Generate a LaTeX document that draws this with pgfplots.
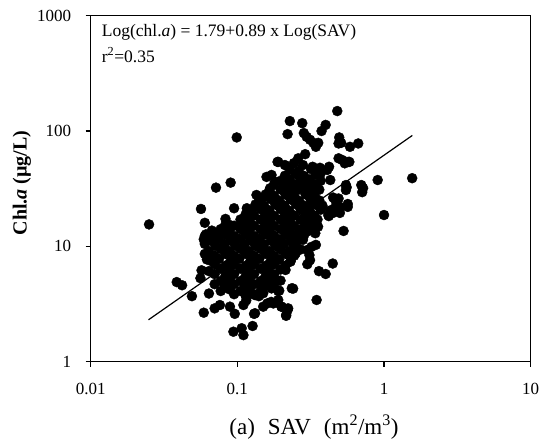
\documentclass[border=0pt]{standalone}
\usepackage{fontspec}
\setmainfont{Liberation Serif}
\usepackage{pgfplots}
\usepackage{pgfplotstable}
\pgfplotsset{compat=1.18}
\pgfplotstableread{
x y
0.025 15.5
0.0386 4.9
0.042 4.6
0.049 3.7
0.0565 21.1
0.060 16
0.083 17.3
0.095 21.4
0.0715 32.3
0.090 35.7
0.099 88
0.059 11.5
0.062 7.7
0.057 6.2
0.056 5.3
0.064 3.9
0.059 2.66
0.070 2.9
0.076 3.1
0.089 3.0
0.096 2.6
0.094 1.82
0.107 1.95
0.110 1.7
0.127 2.04
0.132 2.63
0.190 54
0.158 40
0.171 41.6
0.180 36.4
0.167 31.9
0.154 27
0.135 27.9
0.132 22.1
0.116 21.4
0.118 17.5
0.104 14.8
0.089 15.3
0.076 13.4
0.060 12.3
0.48 149
0.228 122
0.277 117
0.40 113
0.375 100
0.22 94
0.284 96
0.297 89
0.313 84
0.33 79
0.356 79
0.343 73
0.495 88
0.49 78
0.51 79
0.586 73
0.667 78
0.905 37.6
1.556 39
1.0 18.7
0.49 58
0.54 52.5
0.57 54
0.70 34
0.72 32
0.71 29.5
0.556 32.5
0.566 22
0.49 26
0.46 21.4
0.417 18.7
0.50 22
0.445 19.4
0.375 22
0.32 23.6
0.53 13.6
0.447 7.1
0.36 6.1
0.40 5.76
0.347 3.43
0.235 4.33
0.193 4.13
0.20 3.0
0.222 2.9
0.215 2.54
0.313 7.6
0.343 10.3
0.30 9.3
0.28 11.4
0.26 13
0.355 14.8
0.343 16.9
0.29 13.9
0.115 3.66
0.132 3.78
0.150 3.92
0.171 4.32
0.176 3.2
0.19 3.43
0.144 4.78
0.176 5.46
0.213 6.24
0.23 7.37
0.25 8.7
0.24 10.6
0.188 54
0.211 50.7
0.243 52.7
0.28 50.7
0.326 49
0.366 48
0.422 49
0.29 63
0.26 58
0.41 46
0.43 37.6
0.37 43
0.465 25.2
0.45 26.5
0.48 21.5
0.50 19.5
0.43 20.5
0.42 18.3
0.55 34
0.55 30.8
0.566 23.3
0.52 56
0.58 54
0.31 8.4
0.30 7.0
0.34 13
0.32 9.9
0.13 2.6
0.14 3.7
0.11 3.1
0.115 3.4
0.17 3.3
0.16 3.2
0.15 3.0
0.19 4.1
0.215 2.5
0.22 2.8
0.20 3.0
0.24 4.3
0.228 46.5
0.262 45
0.318 46.8
0.36 45.2
0.211 41
0.25 42.2
0.285 40.8
0.342 41.8
0.197 37
0.226 38.3
0.27 37.2
0.31 38
0.37 37
0.178 34.4
0.213 33.6
0.245 34.6
0.292 33.5
0.335 34.5
0.165 30.4
0.197 31.2
0.23 30.5
0.264 31.2
0.316 30.4
0.362 31
0.156 28.2
0.178 27.5
0.213 28.1
0.244 27.4
0.292 28.2
0.335 27.5
0.141 25
0.169 25.6
0.193 24.9
0.231 25.5
0.264 24.8
0.316 25.4
0.362 25
0.133 23.1
0.152 22.5
0.182 23
0.209 22.6
0.25 23.2
0.286 22.5
0.342 23
0.38 22.6
0.12 20.4
0.144 21
0.165 20.5
0.197 21
0.226 20.4
0.27 20.9
0.31 20.5
0.37 20.8
0.114 19
0.13 18.5
0.156 18.9
0.178 18.4
0.213 18.9
0.244 18.5
0.292 18.9
0.335 18.5
0.105 17.1
0.12 16.7
0.144 17.1
0.165 16.7
0.197 17.1
0.226 16.7
0.27 17
0.31 16.8
0.352 17.1
0.083 15.5
0.095 15.1
0.114 15.5
0.13 15.1
0.156 15.4
0.178 15.1
0.213 15.5
0.244 15.1
0.292 15.4
0.335 15.2
0.067 13.7
0.077 14.1
0.088 13.7
0.105 14.1
0.12 13.7
0.144 14
0.165 13.7
0.197 14.1
0.226 13.7
0.27 14
0.31 13.7
0.061 12.7
0.07 12.3
0.083 12.7
0.095 12.3
0.114 12.7
0.13 12.3
0.156 12.7
0.178 12.3
0.213 12.6
0.244 12.3
0.286 12.6
0.066 11.2
0.075 11.6
0.09 11.2
0.103 11.6
0.123 11.2
0.141 11.6
0.169 11.2
0.193 11.5
0.231 11.2
0.264 11.5
0.06 10.5
0.071 10.1
0.082 10.5
0.097 10.1
0.112 10.5
0.133 10.1
0.152 10.4
0.182 10.1
0.209 10.5
0.25 10.2
0.064 9.1
0.077 9.5
0.088 9.1
0.105 9.5
0.12 9.1
0.144 9.5
0.165 9.1
0.197 9.4
0.226 9.1
0.27 9.4
0.06 8.6
0.07 8.3
0.083 8.6
0.095 8.3
0.114 8.6
0.13 8.3
0.156 8.6
0.178 8.3
0.213 8.6
0.244 8.3
0.066 7.5
0.075 7.8
0.09 7.5
0.103 7.8
0.123 7.5
0.141 7.8
0.169 7.5
0.193 7.7
0.231 7.5
0.07 7.0
0.083 6.8
0.095 7.0
0.114 6.8
0.13 7.0
0.156 6.8
0.178 7.0
0.213 6.8
0.064 6.1
0.077 6.4
0.088 6.1
0.105 6.4
0.12 6.1
0.144 6.4
0.165 6.1
0.197 6.3
0.07 5.75
0.083 5.55
0.095 5.75
0.114 5.55
0.13 5.75
0.156 5.55
0.178 5.7
0.077 5.0
0.088 5.2
0.105 5.0
0.12 5.2
0.144 5.0
0.165 5.2
0.197 5.05
0.07 4.7
0.083 4.55
0.095 4.7
0.114 4.55
0.13 4.7
0.156 4.55
0.178 4.65
0.077 4.1
0.088 4.25
0.105 4.1
0.12 4.25
0.144 4.1
0.095 3.85
0.114 3.75
0.13 3.85
}\scatterdata
\begin{document}
\begin{tikzpicture}
\begin{axis}[
  name=ax,
  width=440pt, height=346pt, scale only axis,
  xmode=log, ymode=log,
  xmin=0.01, xmax=10, ymin=1, ymax=1000,
  xtick={0.01,0.1,1,10}, xticklabels={0.01,0.1,1,10},
  ytick={1,10,100,1000}, yticklabels={1,10,100,1000},
  xminorticks=false, yminorticks=false,
  tick align=outside, major tick length=5pt,
  xtick pos=bottom, ytick pos=left,
  axis line style={line width=1.1pt},
  every tick/.style={line width=1.1pt, black},
  tick label style={font=\fontsize{17}{17}\selectfont, inner sep=0pt},
  xticklabel style={anchor=center, yshift=-22pt},
  yticklabel style={anchor=east, xshift=-14.5pt},
  clip=false,
]
\addplot[only marks, mark=*, mark size=5pt, mark options={fill=black, draw=black}] table[x=x, y=y] {\scatterdata};
\addplot[black, line width=1.2pt, mark=none] coordinates {(0.0248,2.31) (1.56,91.6)};
\end{axis}
\node[rotate=90, font=\fontsize{20}{20}\selectfont\bfseries] at ([xshift=-68.7pt, yshift=5.7pt]ax.west) {Chl.\textit{a} (µg/L)};
\node[font=\fontsize{23}{24}\selectfont] at ([xshift=3.3pt, yshift=-65.3pt]ax.south) {(a)\hspace{13pt}SAV\hspace{13pt}(m\textsuperscript{2}/m\textsuperscript{3})};
\node[anchor=west, inner sep=0pt, font=\fontsize{17.5}{18}\selectfont] at ([xshift=11pt, yshift=-16.5pt]ax.north west) {Log(chl.\textit{a}) = 1.79+0.89 x Log(SAV)};
\node[anchor=west, inner sep=0pt, font=\fontsize{17.5}{18}\selectfont] at ([xshift=11pt, yshift=-39.3pt]ax.north west) {r\textsuperscript{2}=0.35};
\pgfresetboundingbox
\path ([xshift=-90.7pt,yshift=-79.3pt]ax.south west) rectangle ([xshift=14.3pt,yshift=15.7pt]ax.north east);
\end{tikzpicture}
\end{document}
